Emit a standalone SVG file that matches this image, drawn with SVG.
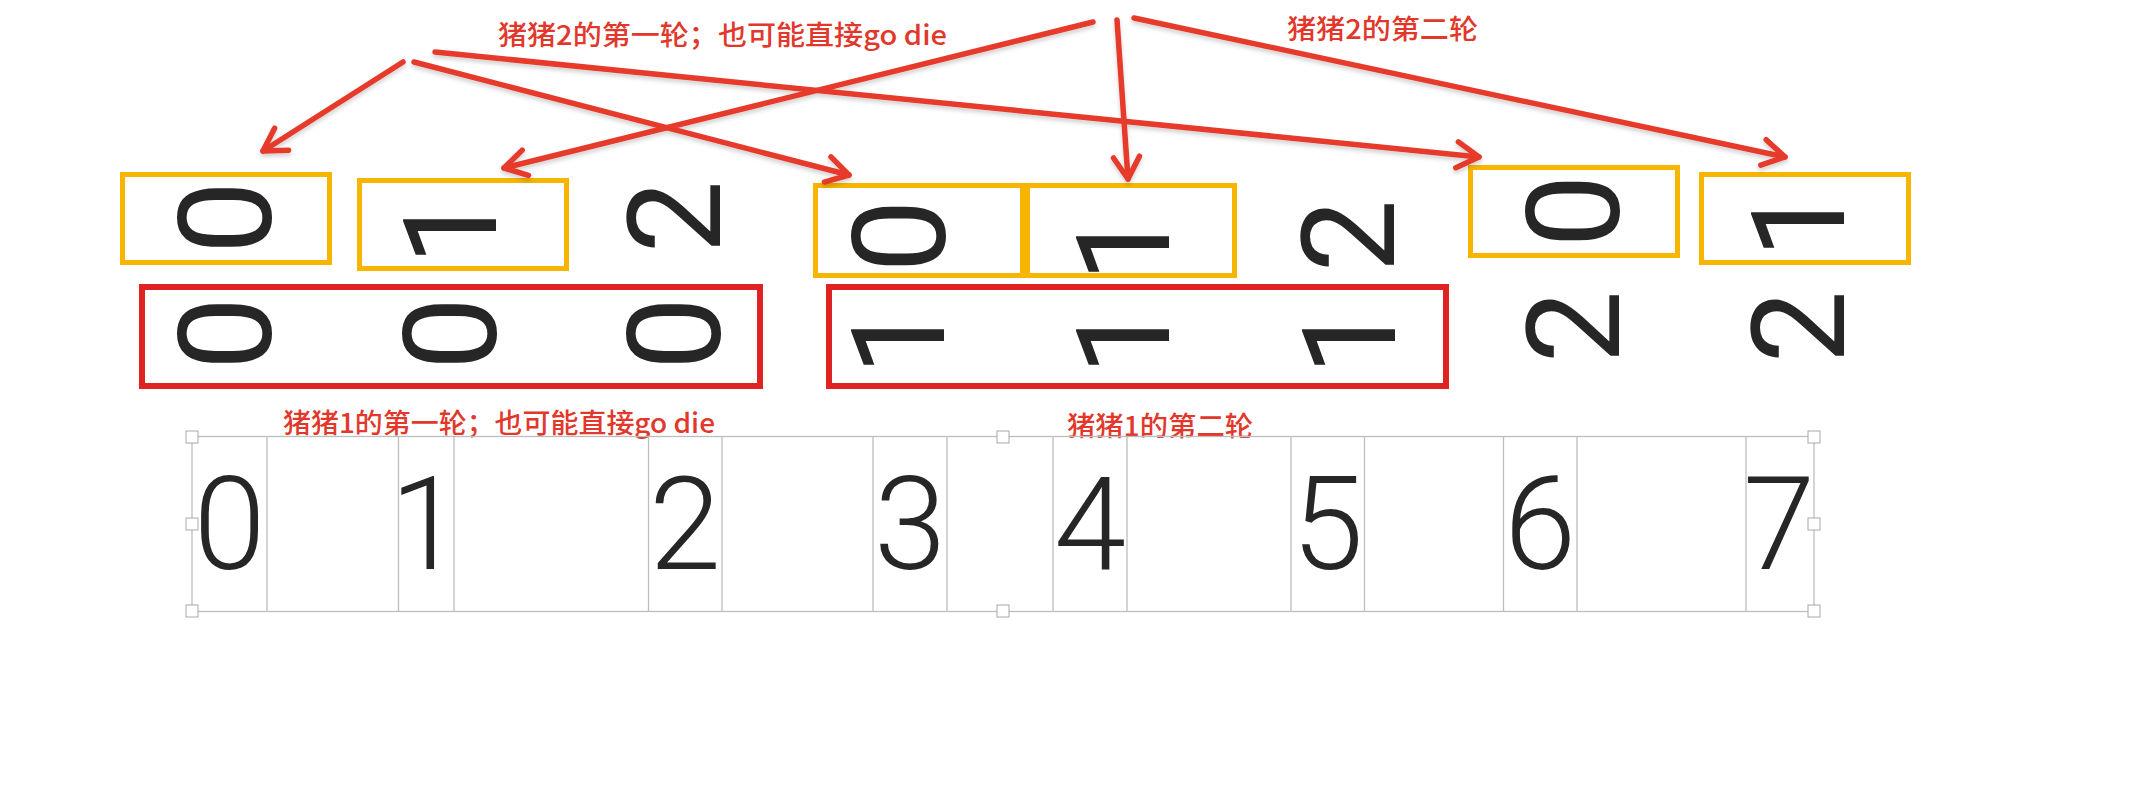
<svg xmlns="http://www.w3.org/2000/svg" width="2152" height="796" viewBox="0 0 2152 796">
<style>
.dg{font-family:Roboto,"Liberation Sans",Arial,sans-serif;font-size:130px;fill:#262626;text-anchor:middle}
.lt{font-weight:300}
.yb{fill:none;stroke:#f7b500;stroke-width:5}
.rb{fill:none;stroke:#e02222;stroke-width:6}
.lb{font-family:"Noto Sans CJK SC","Noto Sans",sans-serif;font-size:27px;font-weight:500;fill:#e2382c}
.ar{fill:none;stroke:#e63a2c;stroke-width:5.5;stroke-linecap:round}
.cl{fill:none;stroke:#bdbdbd;stroke-width:1.3}
.hd{fill:#ffffff;stroke:#a8a8a8;stroke-width:1}
</style>
<defs>
<marker id="ah" markerUnits="userSpaceOnUse" markerWidth="40" markerHeight="40" viewBox="-30 -20 40 40" refX="0" refY="0" orient="auto">
<path d="M-22,-13 L0,0 L-22,13" fill="none" stroke="#e63a2c" stroke-width="5.5" stroke-linecap="round" stroke-linejoin="round"/>
</marker>
<filter id="sh" x="-5%" y="-5%" width="110%" height="120%">
<feDropShadow dx="0" dy="3" stdDeviation="2" flood-color="#000" flood-opacity="0.18"/>
</filter>
</defs>
<rect width="2152" height="796" fill="#ffffff"/>

<g id="yellow-row">
<g id="y0"><rect class="yb" x="122.5" y="174.5" width="207" height="88"/><text class="dg" transform="translate(225,217.5) rotate(-90)" x="0" y="46">0</text></g>
<g id="y1"><rect class="yb" x="359.5" y="180.5" width="207" height="88"/><text class="dg" transform="translate(450,229) rotate(-90)" x="0" y="46">1</text></g>
<g id="t2a"><text class="dg" transform="translate(674,217) rotate(-90)" x="0" y="46">2</text></g>
<g id="y2"><rect class="yb" x="815.5" y="185.5" width="207" height="90"/><text class="dg" transform="translate(899,236) rotate(-90)" x="0" y="46">0</text></g>
<g id="y3"><rect class="yb" x="1027.5" y="185.5" width="207" height="90"/><text class="dg" transform="translate(1123,246) rotate(-90)" x="0" y="46">1</text></g>
<g id="t2b"><text class="dg" transform="translate(1347.5,236) rotate(-90)" x="0" y="46">2</text></g>
<g id="y4"><rect class="yb" x="1470.5" y="167.5" width="207" height="88"/><text class="dg" transform="translate(1573,211) rotate(-90)" x="0" y="46">0</text></g>
<g id="y5"><rect class="yb" x="1701.5" y="174.5" width="207" height="88"/><text class="dg" transform="translate(1798,222) rotate(-90)" x="0" y="46">1</text></g>
</g>

<g id="red-row">
<g id="r0"><rect class="rb" x="142" y="287" width="618" height="99"/>
<text class="dg" transform="translate(225,333.5) rotate(-90)" x="0" y="46">0</text>
<text class="dg" transform="translate(450,333.5) rotate(-90)" x="0" y="46">0</text>
<text class="dg" transform="translate(674,333.5) rotate(-90)" x="0" y="46">0</text></g>
<g id="r1"><rect class="rb" x="829" y="287" width="617" height="99"/>
<text class="dg" transform="translate(898,339) rotate(-90)" x="0" y="46">1</text>
<text class="dg" transform="translate(1123,339) rotate(-90)" x="0" y="46">1</text>
<text class="dg" transform="translate(1349,339) rotate(-90)" x="0" y="46">1</text></g>
<g id="t2c"><text class="dg" transform="translate(1573,327) rotate(-90)" x="0" y="46">2</text></g>
<g id="t2d"><text class="dg" transform="translate(1797.5,327) rotate(-90)" x="0" y="46">2</text></g>
</g>

<g id="labels">
<text id="l1" class="lb" x="498" y="45" textLength="449" lengthAdjust="spacingAndGlyphs">猪猪2的第一轮；也可能直接go die</text>
<text id="l2" class="lb" x="1287" y="39" textLength="191" lengthAdjust="spacingAndGlyphs">猪猪2的第二轮</text>
<text id="l3" class="lb" x="283" y="433" textLength="432" lengthAdjust="spacingAndGlyphs">猪猪1的第一轮；也可能直接go die</text>
<text id="l4" class="lb" x="1067" y="436" textLength="186" lengthAdjust="spacingAndGlyphs">猪猪1的第二轮</text>
</g>

<g id="connectors" filter="url(#sh)">
<line class="ar" x1="403" y1="62" x2="263" y2="151" marker-end="url(#ah)"/>
<line class="ar" x1="414" y1="62" x2="849" y2="175" marker-end="url(#ah)"/>
<line class="ar" x1="435" y1="52" x2="1479" y2="157" marker-end="url(#ah)"/>
<line class="ar" x1="1093" y1="22" x2="504" y2="168" marker-end="url(#ah)"/>
<line class="ar" x1="1117" y1="20" x2="1128" y2="179" marker-end="url(#ah)"/>
<line class="ar" x1="1134" y1="18" x2="1785" y2="157" marker-end="url(#ah)"/>
</g>

<g id="index-table">
<rect class="cl" x="192" y="436.5" width="1622" height="175"/>
<g id="cells">
<line class="cl" x1="267" y1="436.5" x2="267" y2="611.5"/>
<line class="cl" x1="398.5" y1="436.5" x2="398.5" y2="611.5"/>
<line class="cl" x1="454" y1="436.5" x2="454" y2="611.5"/>
<line class="cl" x1="648.5" y1="436.5" x2="648.5" y2="611.5"/>
<line class="cl" x1="722" y1="436.5" x2="722" y2="611.5"/>
<line class="cl" x1="873" y1="436.5" x2="873" y2="611.5"/>
<line class="cl" x1="947" y1="436.5" x2="947" y2="611.5"/>
<line class="cl" x1="1053" y1="436.5" x2="1053" y2="611.5"/>
<line class="cl" x1="1127" y1="436.5" x2="1127" y2="611.5"/>
<line class="cl" x1="1291" y1="436.5" x2="1291" y2="611.5"/>
<line class="cl" x1="1364.5" y1="436.5" x2="1364.5" y2="611.5"/>
<line class="cl" x1="1503.5" y1="436.5" x2="1503.5" y2="611.5"/>
<line class="cl" x1="1577" y1="436.5" x2="1577" y2="611.5"/>
<line class="cl" x1="1746" y1="436.5" x2="1746" y2="611.5"/>
</g>
<g id="idx0"><text class="dg lt" x="229.5" y="569">0</text></g>
<g id="idx1"><text class="dg lt" x="426" y="569">1</text></g>
<g id="idx2"><text class="dg lt" x="685" y="569">2</text></g>
<g id="idx3"><text class="dg lt" x="910" y="569">3</text></g>
<g id="idx4"><text class="dg lt" x="1090" y="569">4</text></g>
<g id="idx5"><text class="dg lt" x="1327.5" y="569">5</text></g>
<g id="idx6"><text class="dg lt" x="1540" y="569">6</text></g>
<g id="idx7"><text class="dg lt" x="1779" y="569">7</text></g>
<g id="handles">
<rect class="hd" x="186" y="431" width="12" height="12"/>
<rect class="hd" x="997" y="431" width="12" height="12"/>
<rect class="hd" x="1808" y="431" width="12" height="12"/>
<rect class="hd" x="186" y="518" width="12" height="12"/>
<rect class="hd" x="1808" y="518" width="12" height="12"/>
<rect class="hd" x="186" y="605" width="12" height="12"/>
<rect class="hd" x="997" y="605" width="12" height="12"/>
<rect class="hd" x="1808" y="605" width="12" height="12"/>
</g>
</g>
</svg>
